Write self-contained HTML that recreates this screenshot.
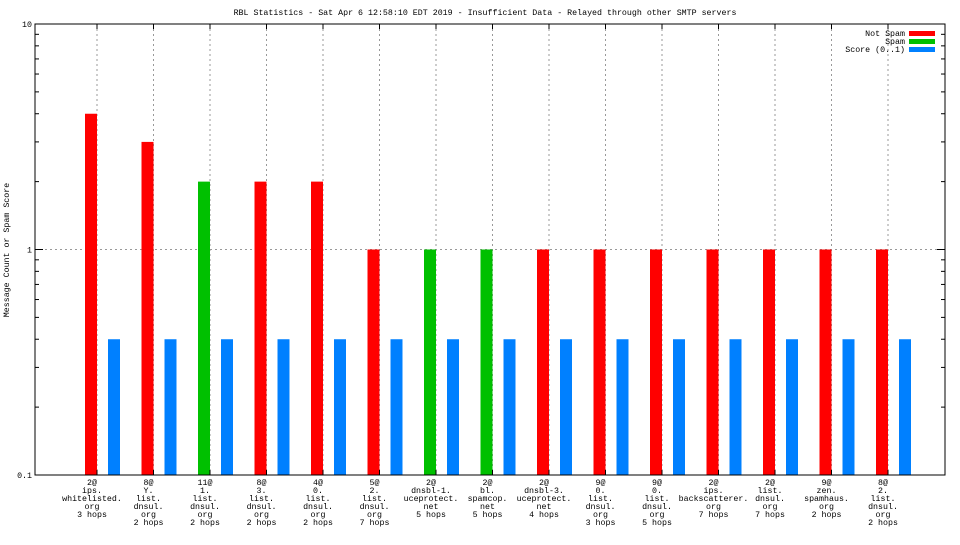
<!DOCTYPE html>
<html><head><meta charset="utf-8"><style>
body{margin:0;background:#fff;}
svg text{font-family:"Liberation Mono","DejaVu Sans Mono",monospace;font-size:8.3px;fill:#000;}
</style></head><body>
<svg id="chart" width="960" height="540" xmlns="http://www.w3.org/2000/svg">
<text x="485" y="15" text-anchor="middle">RBL Statistics - Sat Apr  6 12:58:10 EDT 2019 - Insufficient Data - Relayed through other SMTP servers</text>
<text transform="translate(9,250) rotate(-90)" text-anchor="middle">Message Count or Spam Score</text>
<g id="grid"></g><g id="bars"></g><g id="axes"></g><g id="labels"></g>
<g>
<text x="905" y="36" text-anchor="end">Not Spam</text><rect x="909" y="31" width="26" height="5" fill="#ff0000"/>
<text x="905" y="44" text-anchor="end">Spam</text><rect x="909" y="39" width="26" height="5" fill="#00c000"/>
<text x="905" y="52" text-anchor="end">Score (0..1)</text><rect x="909" y="47" width="26" height="5" fill="#0080ff"/>
</g>
</svg>
<script>
const categories=[["2@","ips.","whitelisted.","org","3 hops"],["8@","Y.","list.","dnsul.","org","2 hops"],["11@","1.","list.","dnsul.","org","2 hops"],["8@","3.","list.","dnsul.","org","2 hops"],["4@","0.","list.","dnsul.","org","2 hops"],["5@","2.","list.","dnsul.","org","7 hops"],["2@","dnsbl-1.","uceprotect.","net","5 hops"],["2@","bl.","spamcop.","net","5 hops"],["2@","dnsbl-3.","uceprotect.","net","4 hops"],["9@","0.","list.","dnsul.","org","3 hops"],["9@","0.","list.","dnsul.","org","5 hops"],["2@","ips.","backscatterer.","org","7 hops"],["2@","list.","dnsul.","org","7 hops"],["9@","zen.","spamhaus.","org","2 hops"],["8@","2.","list.","dnsul.","org","2 hops"]];
const notSpam=[4,3,0,2,2,1,0,0,1,1,1,1,1,1,1];
const spam=[0,0,2,0,0,0,1,1,0,0,0,0,0,0,0];
const score=[0.4,0.4,0.4,0.4,0.4,0.4,0.4,0.4,0.4,0.4,0.4,0.4,0.4,0.4,0.4];
const yTicks=[0.1,1,10];
const yTickLabels=["0.1","1","10"];
const L=35,R=945,T=24,B=475;
const NS="http://www.w3.org/2000/svg";
function yS(v){return B-(Math.log10(v)+1)/2*(B-T);}
function xS(i){return 97+i*(888-97)/(categories.length-1);}
function mk(tag,attrs,parent){const e=document.createElementNS(NS,tag);for(const k in attrs)e.setAttribute(k,attrs[k]);document.getElementById(parent).appendChild(e);return e;}
categories.forEach((c,i)=>{const g=mk('line',{x1:xS(i),x2:xS(i),y1:T,y2:B,stroke:'#999','stroke-dasharray':'2,3'},'grid');

});
[1].forEach(v=>{const g=mk('line',{x1:L,x2:R,y1:yS(v),y2:yS(v),stroke:'#999','stroke-dasharray':'2,3'},'grid');

});
categories.forEach((c,i)=>{const x=xS(i);
if(notSpam[i]>0){const r=mk('rect',{x:x-12,y:yS(notSpam[i]),width:12,height:B-yS(notSpam[i]),fill:'#ff0000'},'bars');

}
if(spam[i]>0){const r=mk('rect',{x:x-12,y:yS(spam[i]),width:12,height:B-yS(spam[i]),fill:'#00c000'},'bars');

}
if(score[i]>0){const r=mk('rect',{x:x+11,y:yS(score[i]),width:12,height:B-yS(score[i]),fill:'#0080ff'},'bars');

}
const t=mk('text',{x:x-5,y:B+10,'text-anchor':'middle'},'labels');


c.forEach((ln,j)=>{const s=document.createElementNS(NS,'tspan');s.setAttribute('x',x-5);s.setAttribute('dy',j?8:0);s.textContent=ln;t.appendChild(s);});
mk('line',{x1:x,x2:x,y1:T,y2:T+5,stroke:'#000'},'axes');
mk('line',{x1:x,x2:x,y1:B,y2:B-5,stroke:'#000'},'axes');
});
const f=mk('rect',{x:L,y:T,width:R-L,height:B-T,fill:'none',stroke:'#000'},'axes');


yTicks.forEach((v,k)=>{const y=yS(v);mk('line',{x1:L,x2:L+8,y1:y,y2:y,stroke:'#000'},'axes');mk('line',{x1:R,x2:R-8,y1:y,y2:y,stroke:'#000'},'axes');
const t=mk('text',{x:L-3,y:y+3,'text-anchor':'end'},'labels');t.textContent=yTickLabels[k];


if(v<10){for(let m=2;m<10;m++){const yy=yS(v*m);mk('line',{x1:L,x2:L+4,y1:yy,y2:yy,stroke:'#000'},'axes');mk('line',{x1:R,x2:R-4,y1:yy,y2:yy,stroke:'#000'},'axes');}}});
</script>
</body></html>
